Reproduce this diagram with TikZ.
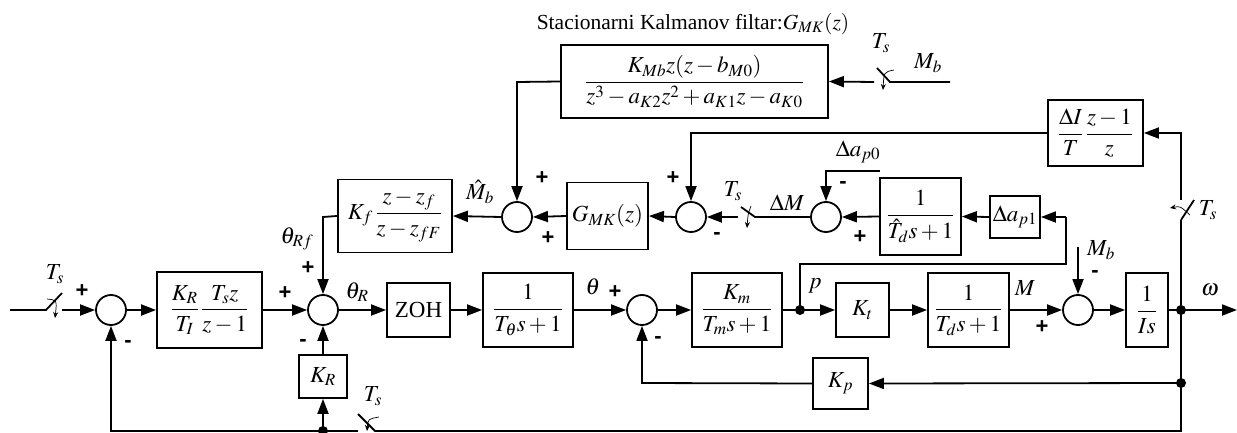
\documentclass[tikz,border=0pt]{standalone}
\usepackage{amsmath}
\usepackage{mathptmx}
\usepackage{fontspec}
\setmainfont{Liberation Serif}
\newfontfamily\signfont{Liberation Sans}
\usetikzlibrary{arrows.meta}
\tikzset{
  ln/.style={line width=1.8pt},
  blk/.style={draw, line width=1.8pt, inner sep=0pt, font=\fontsize{23}{27}\selectfont},
  sumc/.style={circle, draw, line width=1.8pt, minimum size=30pt, inner sep=0pt},
  arr/.style={line width=1.8pt, -{Triangle[length=15pt,width=11pt]}},
  jdot/.style={circle, fill, inner sep=0pt, minimum size=10pt},
  sg/.style={font=\signfont\bfseries\fontsize{22}{22}\selectfont, inner sep=0pt},
  lbl/.style={font=\fontsize{23}{27}\selectfont, inner sep=0pt},
  carr/.style={line width=0.7pt, -{Stealth[length=6pt,width=5pt]}}
}
\begin{document}
\begin{tikzpicture}[x=1pt,y=-1pt]
\useasboundingbox (0,0) rectangle (1237,433);
% ---------- main row ----------
\coordinate (in) at (10,310);
\node[sumc] (s1) at (111,310) {};
\node[blk, minimum width=105pt, minimum height=76pt] (b1) at (209.5,310) {$\dfrac{K_R}{T_I}\,\dfrac{T_s z}{z-1}$};
\node[sumc] (s2) at (323,310) {};
\node[blk, minimum width=63pt, minimum height=54pt] (zoh) at (418.5,310) {ZOH};
\node[blk, minimum width=90pt, minimum height=74pt] (b2) at (528,310) {$\dfrac{1}{T_\theta s+1}$};
\node[sumc] (s3) at (642,310) {};
\node[blk, minimum width=90pt, minimum height=74pt] (b3) at (737,310) {$\dfrac{K_m}{T_m s+1}$};
\node[jdot] (jp) at (800,310) {};
\node[blk, minimum width=53pt, minimum height=54pt] (kt) at (862.5,310) {$K_t$};
\node[blk, minimum width=81pt, minimum height=74pt] (b4) at (968.5,310) {$\dfrac{1}{T_d s+1}$};
\node[sumc] (s4) at (1078,310) {};
\node[blk, minimum width=42pt, minimum height=74pt] (bis) at (1147,310) {$\dfrac{1}{Is}$};
\node[jdot] (jw) at (1181,310) {};
\coordinate (out) at (1237,310);
\node[jdot] (jk) at (1181,383) {};
\node[blk, minimum width=55pt, minimum height=51pt] (kp) at (840.5,383.5) {$K_p$};
\node[blk, minimum width=48pt, minimum height=43pt] (kr) at (323,376.5) {$K_R$};
\node[jdot] (jb) at (323,431) {};
% ---------- upper rows ----------
\node[blk, minimum width=114pt, minimum height=73pt] (kf) at (395,216) {$K_f\,\dfrac{z-z_f}{z-z_{fF}}$};
\node[sumc] (s5) at (517,217) {};
\node[blk, minimum width=81pt, minimum height=67pt] (gmk) at (607.5,216) {$G_{MK}(z)$};
\node[sumc] (s6) at (691,217) {};
\node[sumc] (s7) at (826,217) {};
\node[blk, minimum width=81pt, minimum height=77pt] (bth) at (920.5,216.5) {$\dfrac{1}{\hat{T}_d s+1}$};
\node[blk, minimum width=50pt, minimum height=42pt] (dap) at (1015,217) {$\Delta a_{p1}$};
\node[blk, minimum width=267pt, minimum height=73pt] (kal) at (694.5,81.5) {$\dfrac{K_{Mb}z(z-b_{M0})}{z^3-a_{K2}z^2+a_{K1}z-a_{K0}}$};
\node[blk, minimum width=95pt, minimum height=66pt] (dI) at (1095.5,133) {$\dfrac{\Delta I}{T}\,\dfrac{z-1}{z}$};
\node[font=\fontsize{21.5}{25}\selectfont, inner sep=0pt] (title) at (693,24) {Stacionarni Kalmanov filtar:$G_{MK}(z)$};
% ---------- connectors main row ----------
\draw[ln] (in) -- (46,310) -- (62,293);
\draw[arr] (62,310) -- (s1.west);
\draw[carr] (47,299) .. controls (57,300) .. (55,318);
\draw[arr] (s1.east) -- (b1.west);
\draw[arr] (b1.east) -- (s2.west);
\draw[arr] (s2.east) -- (zoh.west);
\draw[arr] (zoh.east) -- (b2.west);
\draw[arr] (b2.east) -- (s3.west);
\draw[arr] (s3.east) -- (b3.west);
\draw[ln] (b3.east) -- (jp.center);
\draw[arr] (jp.center) -- (kt.west);
\draw[arr] (kt.east) -- (b4.west);
\draw[arr] (b4.east) -- (s4.west);
\draw[arr] (s4.east) -- (bis.west);
\draw[ln] (bis.east) -- (jw.center);
\draw[arr] (jw.center) -- (out);
% feedback Kp
\draw[arr] (jk.center) -- (kp.east);
\draw[arr] (kp.west) -- (642,383) -- (s3.south);
% bottom feedback
\draw[ln] (1181,220) -- (jw.center) -- (jk.center) -- (1181,431) -- (375,431) -- (358,414);
\draw[arr] (358,431) -- (111,431) -- (s1.south);
\draw[carr] (379,417) .. controls (368,419) .. (367,431);
\draw[arr] (jb.center) -- (kr.south);
\draw[arr] (kr.north) -- (s2.south);
% p branch
\draw[ln] (jp.center) -- (800,264) -- (1066,264) -- (1066,217);
\draw[arr] (1066,217) -- (dap.east);
\draw[arr] (dap.west) -- (bth.east);
\draw[arr] (bth.west) -- (s7.east);
\draw[arr] (880,171) -- (826,171) -- (s7.north);
\draw[ln] (s7.west) -- (755,217) -- (741,207);
\draw[arr] (738,217) -- (s6.east);
\draw[carr] (751,206) .. controls (748,214) .. (747,228);
\draw[arr] (s6.west) -- (gmk.east);
\draw[arr] (gmk.west) -- (s5.east);
\draw[arr] (s5.west) -- (kf.east);
\draw[arr] (kf.west) -- (323,217) -- (s2.north);
% Delta I branch
\draw[ln] (1181,220) -- (1194,200);
\draw[arr] (1181,200) -- (1181,133) -- (dI.east);
\draw[carr] (1190,215) .. controls (1180,206) .. (1170,208);
\draw[arr] (dI.west) -- (691,133) -- (s6.north);
% Kalman branch
\draw[ln] (950,82) -- (890,82) -- (877,68);
\draw[arr] (874,82) -- (kal.east);
\draw[carr] (894,70) .. controls (884,72) .. (883,90);
\draw[arr] (kal.west) -- (517,82) -- (s5.north);
% Mb disturbance
\draw[arr] (1078,247) -- (s4.north);
% ---------- labels ----------
\node[sg] at (82,291) {+};
\node[sg] at (128,344) {-};
\node[sg] at (285,293) {+};
\node[sg] at (308,268) {+};
\node[sg] at (303,343) {-};
\node[sg] at (615,292) {+};
\node[sg] at (658,340) {-};
\node[sg] at (1042,327) {+};
\node[sg] at (1095,274) {-};
\node[sg] at (542,178) {+};
\node[sg] at (548,238) {+};
\node[sg] at (673,178) {+};
\node[sg] at (717,236) {-};
\node[sg] at (843,185) {-};
\node[sg] at (860,237) {+};
\node[lbl] at (357,292) {$\theta_R$};
\node[lbl] at (593,287) {$\theta$};
\node[lbl] at (815,286) {$p$};
\node[lbl] at (1025,288) {$M$};
\node[lbl] at (1101,250) {$M_b$};
\node[lbl] at (1210,290) {$\omega$};
\node[lbl] at (55,274) {$T_s$};
\node[lbl] at (373,396) {$T_s$};
\node[lbl] at (881,43) {$T_s$};
\node[lbl] at (733,191) {$T_s$};
\node[lbl] at (1208,210) {$T_s$};
\node[lbl] at (928,63) {$M_b$};
\node[lbl] at (787,203) {$\Delta M$};
\node[lbl] at (858,152) {$\Delta a_{p0}$};
\node[lbl] at (480,192) {$\hat{M}_b$};
\node[lbl] at (297,239) {$\theta_{Rf}$};
\end{tikzpicture}
\end{document}
